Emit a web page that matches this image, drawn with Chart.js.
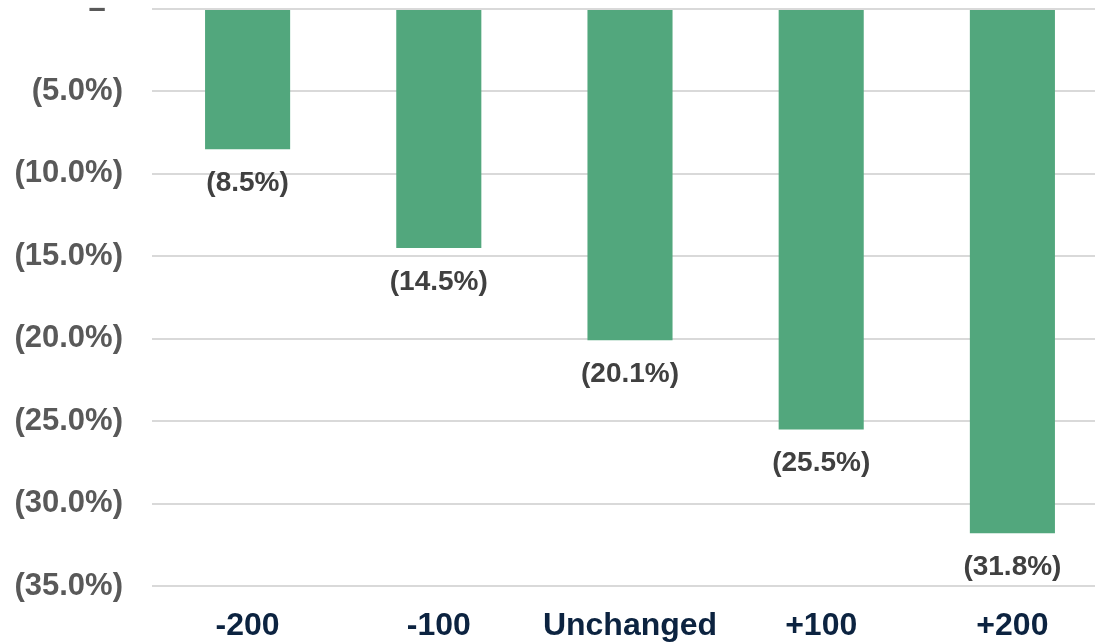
<!DOCTYPE html>
<html>
<head>
<meta charset="utf-8">
<script src="https://cdn.jsdelivr.net/npm/chart.js@4/dist/chart.umd.min.js"></script>
<style>
  html, body { margin: 0; padding: 0; background: #ffffff; overflow: hidden; }
  #wrap { position: relative; width: 1108px; height: 644px; }
</style>
</head>
<body>
<div id="wrap"><canvas id="c"></canvas></div>
<script>
const categories = ['-200', '-100', 'Unchanged', '+100', '+200'];
const values = [-8.5, -14.5, -20.1, -25.5, -31.8];
const yTickValues = [0, -5, -10, -15, -20, -25, -30, -35];

const FONT = '"Liberation Sans", Arial, sans-serif';

function fmtPct(v) {
  if (v === 0) return '\u2013  ';
  return '(' + Math.abs(v).toFixed(1) + '%)';
}

const barLabels = {
  id: 'barLabels',
  afterDatasetsDraw(chart) {
    const ctx = chart.ctx;
    const meta = chart.getDatasetMeta(0);
    ctx.save();
    ctx.font = 'bold 28px ' + FONT;
    ctx.fillStyle = '#404040';
    ctx.textAlign = 'center';
    ctx.textBaseline = 'middle';
    meta.data.forEach((bar, i) => {
      ctx.fillText(fmtPct(values[i]), bar.x, bar.y + 34);
    });
    ctx.restore();
  }
};

new Chart(document.getElementById('c'), {
  type: 'bar',
  data: {
    labels: categories,
    datasets: [{
      data: values,
      backgroundColor: '#52A77D',
      borderWidth: 0,
      categoryPercentage: 1.0,
      barPercentage: 0.445
    }]
  },
  options: {
    responsive: true,
    maintainAspectRatio: false,
    animation: false,
    layout: { padding: { top: 9, left: 0, right: 0, bottom: 0 } },
    plugins: { legend: { display: false }, tooltip: { enabled: false } },
    scales: {
      x: {
        grid: { display: false, drawTicks: false },
        border: { display: false },
        ticks: {
          color: '#0C2340',
          font: { family: FONT, size: 32, weight: 'bold' },
          padding: 21,
          maxRotation: 0
        },
        afterFit(scale) { scale.height = 58; scale.paddingLeft = 0; scale.paddingRight = 0; }
      },
      y: {
        min: -35,
        max: 0,
        afterBuildTicks(scale) {
          scale.ticks = yTickValues.map(v => ({ value: v }));
        },
        grid: { color: '#D9D9D9', lineWidth: 2, drawTicks: false },
        border: { display: false },
        ticks: {
          color: '#595959',
          font: { family: FONT, size: 31, weight: 'bold' },
          padding: 29,
          callback: (v) => fmtPct(v)
        },
        afterFit(scale) { scale.width = 152; scale.paddingTop = 0; scale.paddingBottom = 0; }
      }
    }
  },
  plugins: [barLabels]
});
</script>
</body>
</html>
